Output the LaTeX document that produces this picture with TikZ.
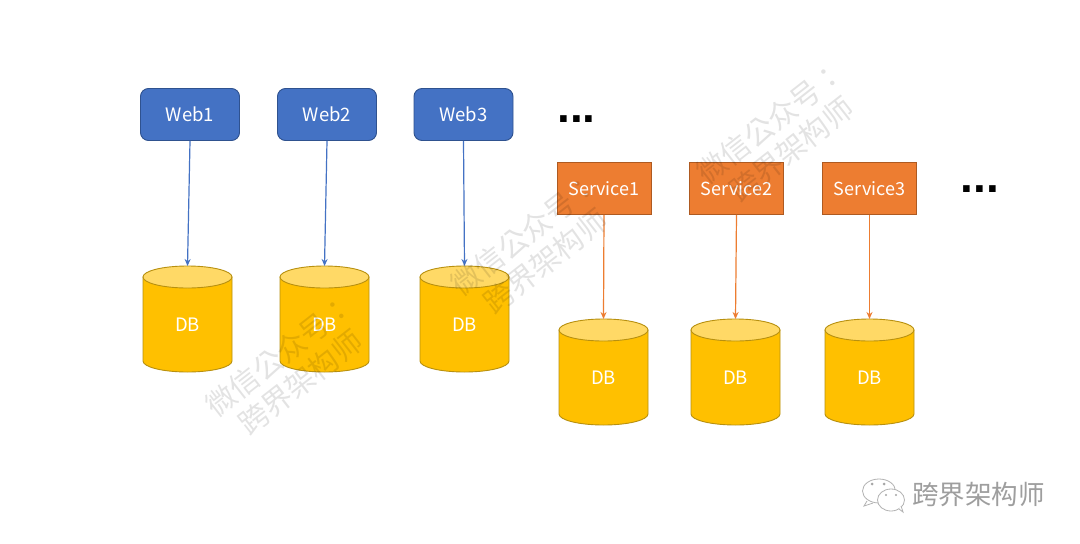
\documentclass[tikz,border=0pt]{standalone}
\usepackage{fontspec}
\setmainfont{Noto Sans CJK SC}
\newfontfamily\dotsfont{Liberation Sans}
\newfontfamily\markfont{Noto Sans CJK TC}
\definecolor{webblue}{HTML}{4472C4}
\definecolor{webedge}{HTML}{2F528F}
\definecolor{svcorange}{HTML}{ED7D31}
\definecolor{svcedge}{HTML}{AE5A21}
\definecolor{dbgold}{HTML}{FFC000}
\definecolor{dbtop}{HTML}{FFD966}
\definecolor{dbedge}{HTML}{B8900F}
\usetikzlibrary{arrows.meta}
\tikzset{
  webbox/.style={draw=webedge,fill=webblue,rounded corners=8pt,line width=0.9pt,minimum width=99pt,minimum height=52pt,inner sep=0pt,text=white,font=\fontsize{18.5}{20}\selectfont},
  svcbox/.style={draw=svcedge,fill=svcorange,line width=0.9pt,minimum width=94pt,minimum height=52pt,inner sep=0pt,text=white,font=\fontsize{18}{20}\selectfont},
  dbanchor/.style={minimum width=89pt,minimum height=106pt,inner sep=0pt,outer sep=0pt},
  dblabel/.style={text=white,inner sep=0pt,font=\fontsize{18.5}{20}\selectfont},
  webarrow/.style={draw=webblue,line width=1.2pt,-{Stealth[length=7pt,width=6pt]}},
  svcarrow/.style={draw=svcorange,line width=1.2pt,-{Stealth[length=7pt,width=6pt]}},
  dotsnode/.style={inner sep=0pt,font=\dotsfont\bfseries\fontsize{46}{46}\selectfont},
  mark1/.style={inner sep=0pt,rotate=38,align=center,text=black,text opacity=0.11,font=\markfont\fontsize{29.5}{34}\selectfont},
  brand/.style={inner sep=0pt,text=black!38,font=\fontsize{26.5}{28}\selectfont},
  bubble/.style={draw=black!30,fill=white,line width=0.8pt},
  eye/.style={fill=black!35,draw=none}
}
\newcommand{\dbcyl}[3]{%
  \node[dbanchor] (#1) at (#2,#3) {};
  \draw[draw=dbedge,fill=dbgold,line width=0.9pt]
    (#2-44.5,#3-42) -- (#2-44.5,#3+42) arc[start angle=180,end angle=360,x radius=44.5,y radius=-11]
    -- (#2+44.5,#3-42) -- cycle;
  \draw[draw=dbedge,fill=dbtop,line width=0.9pt]
    (#2,#3-42) ellipse[x radius=44.5,y radius=11];
  \node[dblabel] (#1label) at (#2,#3+6) {DB};
}
\begin{document}
\begin{tikzpicture}[x=1pt,y=-1pt]
\useasboundingbox[fill=white] (0,0) rectangle (1080,544);

\node[webbox] (web1) at (190,114.5) {Web1};
\node[webbox] (web2) at (327,114.5) {Web2};
\node[webbox] (web3) at (463.5,114.5) {Web3};

\node[svcbox] (svc1) at (604,188.5) {Service1};
\node[svcbox] (svc2) at (736.5,188.5) {Service2};
\node[svcbox] (svc3) at (869.5,188.5) {Service3};

\dbcyl{db1}{187.5}{319}
\dbcyl{db2}{324.5}{319}
\dbcyl{db3}{464.5}{319}
\dbcyl{db4}{603.5}{372}
\dbcyl{db5}{735.5}{372}
\dbcyl{db6}{869.5}{372}

\draw[webarrow] (web1.south) -- (db1.north);
\draw[webarrow] (web2.south) -- (db2.north);
\draw[webarrow] (web3.south) -- (db3.north);
\draw[svcarrow] (svc1.south) -- (db4.north);
\draw[svcarrow] (svc2.south) -- (db5.north);
\draw[svcarrow] (svc3.south) -- (db6.north);

\node[dotsnode] (dots1) at (576.5,119) {...};
\node[dotsnode] (dots2) at (980,189) {...};

\node[mark1] (mark1) at (290,369) {微信公众号：\\跨界架构师};
\node[mark1] (mark2) at (535,248) {微信公众号：\\跨界架构师};
\node[mark1] (mark3) at (781,136) {微信公众号：\\跨界架构师};

\draw[bubble] (879,491) ellipse[x radius=16.5,y radius=12];
\draw[bubble] (867,501) -- (864,506) -- (873,503);
\fill[eye] (872,484) circle (1.5);
\fill[eye] (884,484) circle (1.5);
\draw[bubble] (891,500) ellipse[x radius=13.5,y radius=11];
\draw[bubble] (899,509) -- (903,512) -- (901,506);
\fill[eye] (886,495) circle (1.2);
\fill[eye] (896,495) circle (1.2);
\node[brand,anchor=west] (brand) at (912,495) {跨界架构师};
\end{tikzpicture}
\end{document}
